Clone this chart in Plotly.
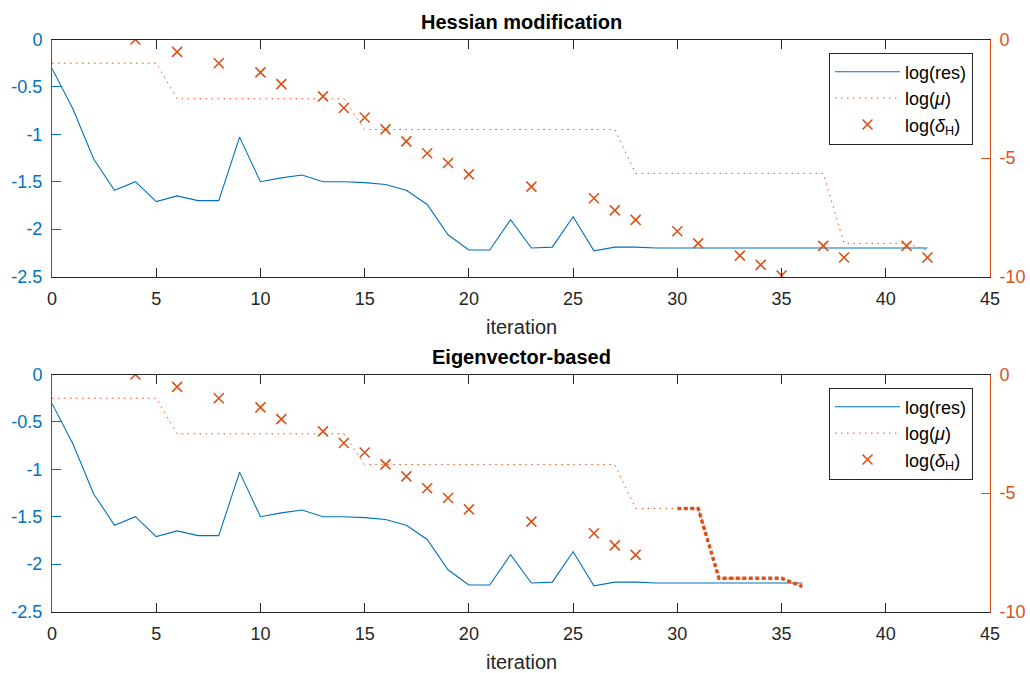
import plotly.graph_objects as go

# ---- data -------------------------------------------------------------
iters_hess = list(range(43))
iters_eig = list(range(37))

res_hess = [-0.305, -0.73, -1.26, -1.59, -1.50, -1.71, -1.65, -1.70, -1.70, -1.03,
            -1.50, -1.46, -1.43, -1.50, -1.50, -1.51, -1.53, -1.59, -1.74, -2.06,
            -2.22, -2.22, -1.90, -2.20, -2.19, -1.87, -2.23, -2.19, -2.19, -2.20,
            -2.20, -2.20, -2.20, -2.20, -2.20, -2.20, -2.20, -2.20, -2.20, -2.20,
            -2.20, -2.20, -2.20]
res_eig = [-0.305, -0.73, -1.26, -1.59, -1.50, -1.71, -1.65, -1.70, -1.70, -1.03,
           -1.50, -1.46, -1.43, -1.50, -1.50, -1.51, -1.53, -1.59, -1.74, -2.06,
           -2.22, -2.22, -1.90, -2.20, -2.19, -1.87, -2.23, -2.19, -2.19, -2.20,
           -2.20, -2.20, -2.20, -2.20, -2.20, -2.20, -2.20]

mu_hess = [-1.0] * 6 + [-2.5] * 9 + [-3.8] * 13 + [-5.65] * 10 + [-8.6] * 4 + [-8.9]
mu_eig = [-1.0] * 6 + [-2.5] * 9 + [-3.8] * 13 + [-5.65] * 4 + [-8.6] * 4 + [-8.95]
eig_phase_start = 30  # iterations drawn with the heavy dotted line

delta_iters_hess = [4, 6, 8, 10, 11, 13, 14, 15, 16, 17, 18, 19, 20, 23, 26, 27, 28,
                    30, 31, 33, 34, 35, 37, 38, 41, 42]
delta_hess = [0.0, -0.52, -1.0, -1.39, -1.88, -2.40, -2.89, -3.29, -3.79, -4.30,
              -4.80, -5.21, -5.69, -6.21, -6.70, -7.21, -7.61, -8.09, -8.60, -9.12,
              -9.51, -9.96, -8.71, -9.20, -8.71, -9.20]
delta_iters_eig = [4, 6, 8, 10, 11, 13, 14, 15, 16, 17, 18, 19, 20, 23, 26, 27, 28]
delta_eig = [0.0, -0.52, -1.0, -1.39, -1.88, -2.40, -2.89, -3.29, -3.79, -4.30,
             -4.80, -5.21, -5.69, -6.21, -6.70, -7.21, -7.61]

x_ticks = [0, 5, 10, 15, 20, 25, 30, 35, 40, 45]
left_ticks = [0, -0.5, -1, -1.5, -2, -2.5]
left_ticktext = ["0", "-0.5", "-1", "-1.5", "-2", "-2.5"]
right_ticks = [0, -5, -10]
right_ticktext = ["0", "-5", "-10"]

panel_titles = ["Hessian modification", "Eigenvector-based"]

# ---- styling ----------------------------------------------------------
W, H = 1030, 673
BLUE = "#0072BD"
ORANGE = "#D95319"
DARK = "#262626"
FONT = "Liberation Sans, Arial, Helvetica, sans-serif"

x_left, x_right = 52, 990
panels_px = [(39.5, 276.5), (374.5, 611.5)]  # (top, bottom) in pixels


def py(p):
    return 1 - p / H


fig = go.Figure()

datasets = [
    (iters_hess, res_hess, mu_hess, delta_iters_hess, delta_hess, None),
    (iters_eig, res_eig, mu_eig, delta_iters_eig, delta_eig, eig_phase_start),
]

for k, (its, res, mu, d_it, d_val, heavy_from) in enumerate(datasets):
    xa = "x" if k == 0 else "x2"
    ya_l = "y" if k == 0 else "y3"
    ya_r = "y2" if k == 0 else "y4"
    leg = "legend" if k == 0 else "legend2"

    fig.add_trace(go.Scatter(
        x=its, y=mu, mode="lines", name="log(<i>μ</i>)",
        line=dict(color=ORANGE, width=1, dash="1.5px,4.5px"),
        xaxis=xa, yaxis=ya_r, legend=leg, legendrank=2))
    if heavy_from is not None:
        fig.add_trace(go.Scatter(
            x=its[heavy_from:], y=mu[heavy_from:], mode="lines",
            line=dict(color=ORANGE, width=3.5, dash="4px,2.5px"),
            xaxis=xa, yaxis=ya_r, showlegend=False))
    fig.add_trace(go.Scatter(
        x=d_it, y=d_val, mode="markers", name="log(<i>δ</i><sub>H</sub>)",
        marker=dict(symbol="x-thin", size=10, color=ORANGE,
                    line=dict(color=ORANGE, width=1.6)),
        xaxis=xa, yaxis=ya_r, legend=leg, legendrank=3))
    fig.add_trace(go.Scatter(
        x=its, y=res, mode="lines", name="log(res)",
        line=dict(color=BLUE, width=1.1),
        xaxis=xa, yaxis=ya_l, legend=leg, legendrank=1))

layout = dict(
    template="none",
    width=W, height=H,
    margin=dict(l=0, r=0, t=0, b=0, autoexpand=False),
    paper_bgcolor="white", plot_bgcolor="white",
    font=dict(family=FONT, size=18, color=DARK),
    annotations=[],
)

for k, (top, bot) in enumerate(panels_px):
    xa = "xaxis" if k == 0 else "xaxis2"
    ya_l = "yaxis" if k == 0 else "yaxis3"
    ya_r = "yaxis2" if k == 0 else "yaxis4"
    xref = "x" if k == 0 else "x2"
    yl_ref = "y" if k == 0 else "y3"
    ydom = [py(bot), py(top)]

    layout[xa] = dict(
        domain=[x_left / W, x_right / W], anchor=yl_ref, range=[0, 45],
        tickmode="array", tickvals=x_ticks, ticks="inside", ticklen=9,
        tickcolor=DARK, showline=True, linecolor=DARK, linewidth=1,
        mirror="ticks", showgrid=False, zeroline=False, automargin=False,
        tickfont=dict(size=18, color=DARK), ticklabelstandoff=6,
    )
    layout[ya_l] = dict(
        domain=ydom, anchor=xref, range=[-2.5, 0],
        tickmode="array", tickvals=left_ticks, ticktext=left_ticktext,
        ticks="inside", ticklen=9, tickcolor=BLUE, showline=True,
        linecolor=BLUE, linewidth=1, showgrid=False, zeroline=False,
        automargin=False,
        tickfont=dict(size=18, color=BLUE), ticklabelstandoff=5,
    )
    layout[ya_r] = dict(
        domain=ydom, anchor=xref, overlaying=yl_ref, side="right",
        range=[-10, 0], tickmode="array", tickvals=right_ticks,
        ticktext=right_ticktext, ticks="inside", ticklen=9,
        tickcolor=ORANGE, showline=True, linecolor=ORANGE, linewidth=1,
        showgrid=False, zeroline=False, automargin=False,
        tickfont=dict(size=18, color=ORANGE), ticklabelstandoff=5,
    )

    layout["annotations"].append(dict(
        text="<b>" + panel_titles[k] + "</b>", xref="paper", yref="paper",
        x=(x_left + x_right) / 2 / W, y=py(top - 18), xanchor="center",
        yanchor="middle", showarrow=False,
        font=dict(family=FONT, size=20, color="black")))
    layout["annotations"].append(dict(
        text="iteration", xref="paper", yref="paper",
        x=(x_left + x_right) / 2 / W, y=py(bot + 50), xanchor="center",
        yanchor="middle", showarrow=False,
        font=dict(family=FONT, size=20, color=DARK)))

    legend_key = "legend" if k == 0 else "legend2"
    layout[legend_key] = dict(
        x=973 / W, xanchor="right", y=py(top + 13), yanchor="top",
        bgcolor="white", bordercolor=DARK, borderwidth=1,
        font=dict(family=FONT, size=18, color="black"),
        itemwidth=65, tracegroupgap=0,
    )

fig.update_layout(**layout)

# page without the default body margin so the figure fills the window exactly
fig.write_html(
    "out.html",
    post_script="document.body.style.margin='0';document.body.style.overflow='hidden';",
)
